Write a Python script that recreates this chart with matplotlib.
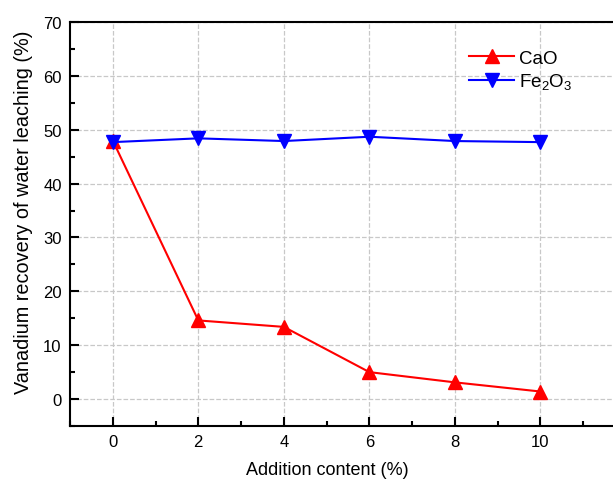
import matplotlib
matplotlib.use("Agg")
import matplotlib.pyplot as plt
from matplotlib.ticker import MultipleLocator

plt.rcParams['font.family'] = ['Liberation Sans', 'DejaVu Sans']
plt.rcParams['mathtext.fontset'] = 'custom'
plt.rcParams['mathtext.rm'] = 'Liberation Sans'

# data
addition = [0, 2, 4, 6, 8, 10]
cao = [48.0, 14.6, 13.4, 5.0, 3.1, 1.4]
fe2o3 = [47.7, 48.4, 47.9, 48.7, 47.9, 47.7]

fig = plt.figure(figsize=(6.13, 4.81), dpi=100)
# right side of the frame runs off the picture in the reference
ax = fig.add_axes([70 / 613, 54 / 481, 556 / 613, 404 / 481])

ax.plot(addition, cao, color='red', marker='^', markersize=10, linewidth=1.5,
        label='CaO', zorder=3)
ax.plot(addition, fe2o3, color='blue', marker='v', markersize=10, linewidth=1.5,
        label=r'Fe$_2$O$_3$', zorder=3)

ax.set_xlim(-1, 12)
ax.set_ylim(-5, 70)
ax.set_xticks(addition)
ax.set_yticks(range(0, 71, 10))
ax.xaxis.set_minor_locator(MultipleLocator(1))
ax.yaxis.set_minor_locator(MultipleLocator(5))
ax.tick_params(which='both', direction='in', width=1.5, labelsize=12)
ax.tick_params(which='major', length=6.5, pad=6)
ax.tick_params(which='minor', length=3.5)
ax.tick_params(top=False, right=False, which='both')
for s in ax.spines.values():
    s.set_linewidth(1.5)

ax.grid(True, which='major', linestyle='--', color='#c8c8c8', linewidth=0.9)
ax.set_axisbelow(True)

ax.set_xlabel('Addition content (%)', fontsize=13)
ax.set_ylabel('Vanadium recovery of water leaching (%)', fontsize=14.3)
ax.xaxis.set_label_coords(0.462, -0.087)
ax.yaxis.set_label_coords(-0.067, 0.532)

ax.legend(loc='upper left', bbox_to_anchor=(0.738, 0.93),
          bbox_transform=fig.transFigure, frameon=False, fontsize=13.5,
          handlelength=2.4, handletextpad=0.25, labelspacing=0.25)

fig.savefig('out.png', dpi=100)
